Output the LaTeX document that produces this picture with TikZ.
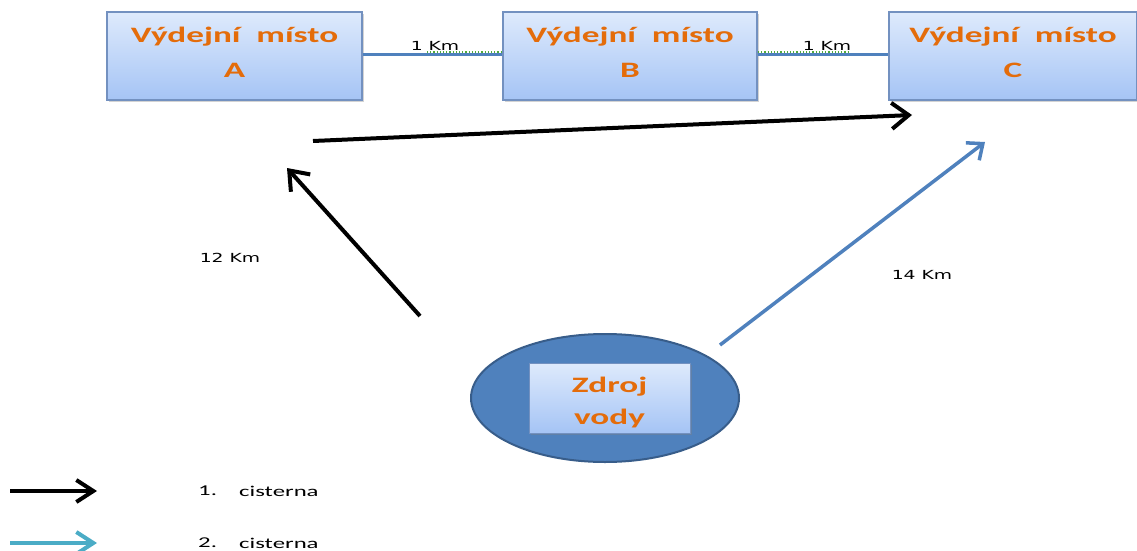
\documentclass[tikz,border=0pt]{standalone}
\usepackage{fontspec}
\usetikzlibrary{arrows.meta,shapes.geometric,shadows}
\newfontfamily\boxfont[FakeStretch=1.6]{Carlito}
\newfontfamily\kmfont[FakeStretch=1.5]{DejaVu Sans}
\newfontfamily\legfont[FakeStretch=1.65]{Carlito}
\definecolor{txtorange}{RGB}{228,108,10}
\definecolor{boxtop}{RGB}{222,234,252}
\definecolor{boxbot}{RGB}{165,196,245}
\definecolor{boxline}{RGB}{115,145,192}
\definecolor{linkblue}{RGB}{79,129,189}
\definecolor{ellfill}{RGB}{79,129,189}
\definecolor{elldraw}{RGB}{56,93,138}
\definecolor{legblue}{RGB}{75,172,198}
\definecolor{dotgreen}{RGB}{80,170,60}
\tikzset{
  placebox/.style={draw=boxline, line width=1.2pt, top color=boxtop, bottom color=boxbot,
    minimum width=#1, minimum height=88pt, inner sep=0pt, align=center, text depth=8pt,
    font=\boxfont\bfseries\fontsize{22}{35}\selectfont, text=txtorange,
    drop shadow={opacity=0.35, shadow xshift=2pt, shadow yshift=-2pt}},
  link/.style={draw=linkblue, line width=3pt},
  greendot/.style={draw=dotgreen, line width=1.2pt, dotted},
  kmlabel/.style={font=\kmfont\fontsize{12.5}{14}\selectfont, text=black, inner sep=0pt},
  blackarrow/.style={draw=black, line width=4pt, -{Straight Barb[length=17pt, width=26pt]}},
  bluearrow/.style={draw=linkblue, line width=3.5pt, -{Straight Barb[length=13pt, width=22pt]}},
  legarrow/.style={line width=4pt, -{Straight Barb[length=17pt, width=22pt]}},
  legtext/.style={font=\legfont\fontsize{15}{18}\selectfont, anchor=west, inner sep=0pt}
}
\begin{document}
\begin{tikzpicture}[x=1pt, y=-1pt]
\useasboundingbox (0,0) rectangle (1137,551);
% boxes
\node[placebox=255pt] (A) at (234.5,56) {Výdejní\ \ místo\\A};
\node[placebox=254pt] (B) at (630,56) {Výdejní\ \ místo\\B};
\node[placebox=248pt] (C) at (1013,56) {Výdejní\ \ místo\\C};
% links
\draw[link] ([yshift=1pt]A.east) -- ([yshift=1pt]B.west);
\draw[link] ([yshift=1pt]B.east) -- ([yshift=1pt]C.west);
\coordinate (g1s) at (427,52); \coordinate (g1e) at (502,52);
\coordinate (g2s) at (758,52); \coordinate (g2e) at (850,52);
\draw[greendot] (g1s) -- (g1e);
\draw[greendot] (g2s) -- (g2e);
\node[kmlabel] (km1) at (435,46) {1 Km};
\node[kmlabel] (km2) at (827,46) {1 Km};
% source
\node[ellipse, draw=elldraw, line width=2pt, fill=ellfill, minimum width=268pt, minimum height=128pt] (E) at (605,398) {};
\node[draw=boxline, line width=0.8pt, top color=boxtop, bottom color=boxbot, minimum width=161pt, minimum height=70pt, inner sep=0pt,
  drop shadow={opacity=0.35, shadow xshift=2pt, shadow yshift=-2pt}] (Z) at (609.5,398) {};
\node[inner sep=0pt, align=center, font=\boxfont\bfseries\fontsize{22}{32}\selectfont, text=txtorange,
  yshift=-4.5pt] (Zt) at (Z.center) {Zdroj\\vody};
% arrows
\coordinate (a1s) at (313,141); \coordinate (a1e) at (912,115);
\coordinate (a2s) at (420,316); \coordinate (a2e) at (287,168);
\coordinate (a3s) at (720,345); \coordinate (a3e) at (985,142);
\draw[blackarrow] (a1s) -- (a1e);
\draw[blackarrow] (a2s) -- (a2e);
\draw[bluearrow] (a3s) -- (a3e);
\node[kmlabel] (km12) at (230,258) {12 Km};
\node[kmlabel] (km14) at (922,275) {14 Km};
% legend
\coordinate (l1s) at (10,491); \coordinate (l1e) at (97,491);
\coordinate (l2s) at (10,543); \coordinate (l2e) at (97,543);
\draw[legarrow, draw=black] (l1s) -- (l1e);
\draw[legarrow, draw=legblue] (l2s) -- (l2e);
\node[legtext] (n1) at (198,491) {1.};
\node[legtext] (t1) at (239,491) {cisterna};
\node[legtext] (n2) at (198,543) {2.};
\node[legtext] (t2) at (239,543) {cisterna};
\end{tikzpicture}
\end{document}
